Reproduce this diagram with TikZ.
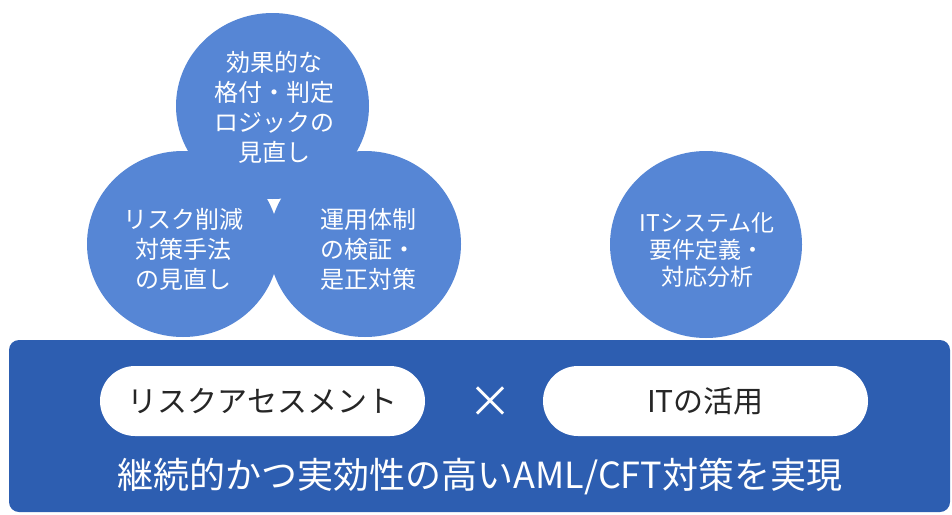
\documentclass[tikz,border=0pt]{standalone}
\usepackage{fontspec}
\setmainfont{Noto Sans CJK JP}
\definecolor{circblue}{RGB}{86,134,213}
\definecolor{bandblue}{RGB}{45,94,177}
\definecolor{pilltext}{RGB}{38,38,38}
\tikzset{
  circtext/.style={text=white, align=center, font=\fontsize{24}{30}\selectfont, inner sep=0pt},
  pill/.style={fill=white, draw=none, rounded corners=35pt, minimum width=325pt, minimum height=70pt, text=pilltext, font=\fontsize{30}{36}\selectfont, inner sep=0pt},
  banner/.style={fill=bandblue, draw=none, rounded corners=10pt, minimum width=941pt, minimum height=172pt, inner sep=0pt}
}
\begin{document}
\begin{tikzpicture}[x=1pt,y=-1pt]
\useasboundingbox (0,0) rectangle (952,514);
\fill[white] (0,0) rectangle (952,514);
% circles
\fill[circblue] (272.5,106) ellipse [x radius=96.5pt, y radius=93pt];
\fill[circblue] (183,244) ellipse [x radius=96pt, y radius=93pt];
\fill[circblue] (365,244) ellipse [x radius=96pt, y radius=93pt];
\fill[circblue] (706,244.5) ellipse [x radius=96pt, y radius=93.5pt];
% circle texts
\node[circtext] (top) at (274,107) {効果的な\\格付・判定\\ロジックの\\見直し};
\node[circtext] (left) at (183,249) {リスク削減\\対策手法\\の見直し};
\node[circtext] (right) at (368,249) {運用体制\\の検証・\\是正対策};
\node[circtext, font=\fontsize{23}{27}\selectfont] (it) at (707,250) {ITシステム化\\要件定義・\\対応分析};
% banner
\node[banner] (base) at (479.5,426) {};
\node[pill] (risk) at (262.5,401) {リスクアセスメント};
\node[pill] (itu) at (705.5,401) {ITの活用};
\node[text=white, font=\fontsize{44}{48}\selectfont, inner sep=0pt] (times) at (490,402) {×};
\node[text=white, font=\fontsize{36}{42}\selectfont, inner sep=0pt] (goal) at (480,477) {継続的かつ実効性の高いAML/CFT対策を実現};
\end{tikzpicture}
\end{document}
